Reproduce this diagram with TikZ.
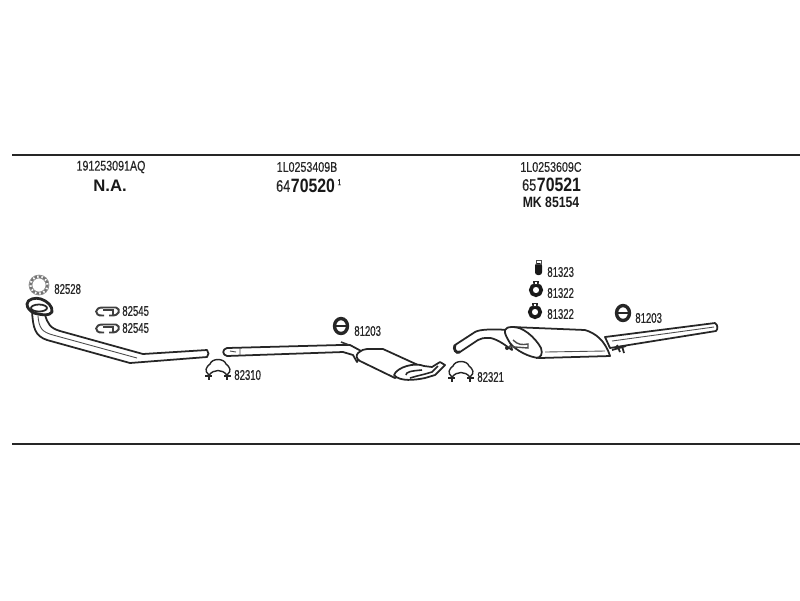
\documentclass[tikz,border=0pt]{standalone}
\usepackage{fontspec}
\setmainfont[FakeStretch=0.76,FakeBold=0.3]{Liberation Sans}
\newfontfamily\partfont[FakeStretch=0.68,FakeBold=0.6]{Liberation Sans}
\newfontfamily\boldnarrow[FakeStretch=0.82]{Liberation Sans Bold}
\newfontfamily\boldwide{Liberation Sans Bold}
\usetikzlibrary{calc}
\tikzset{
    rule/.style={line width=1.3pt, black!85},
    pipe/.style={draw=black!85, fill=white, line width=1pt, line join=round},
    thin pipe/.style={draw=black!70, line width=0.5pt},
    number/.style={inner sep=0pt, font=\fontsize{8}{8}\selectfont, black!85},
    partno/.style={inner sep=0pt, anchor=west, font=\fontsize{8}{8}\partfont, black!85},
    bigno/.style={inner sep=0pt, font=\fontsize{11}{11}\boldnarrow, black!90},
    clamp/.pic={
        \draw[pipe, line width=0.8pt] (-9,5) .. controls (-14,1) and (-12,-3) .. (-8,-6)
            .. controls (-6,-12) and (6,-12) .. (8,-6)
            .. controls (12,-3) and (14,1) .. (9,5)
            .. controls (4,-1) and (-4,-1) .. (-9,5) -- cycle;
        \draw[line width=1.6pt, black!85] (-13,6) -- (-6,6) (6,6) -- (13,6);
        \draw[line width=1.4pt, black!85] (-9,5) -- (-9,10) (9,5) -- (9,10);
    },
    springclip/.pic={
        \draw[line width=1.1pt, black!75] (-4,-3.5) -- (9,-3.5)
            (-4,-3.5) .. controls (-13,-4) and (-13,5) .. (-5,4.5) -- (-3,4.5)
            (9,-3.5) .. controls (14,-2) and (13,5) .. (4,4.5) -- (2,4.5)
            (-4,-1) -- (6,-1) -- (6,3);
    },
    mounting/.pic={
        \draw[black!85, line width=1.9pt] (0,0) ellipse (6.5 and 7.5);
        \fill[black!85] (-5,-1.2) rectangle (5,1.2);
        \fill[white] (-2.5,-4.5) rectangle (2.5,-1.6) (-2.5,1.6) rectangle (2.5,4.5);
    },
    hanger/.pic={
        \draw[black!90, line width=2.1pt] (0,0) circle (5.2);
        \fill[black!85] (-2.5,-5) -- (2.5,-5) -- (3,-9) -- (-3,-9) -- cycle;
        \fill[white] (-1.2,-8) rectangle (1.2,-6.5);
    },
}
\begin{document}
\begin{tikzpicture}[x=0.02cm, y=-0.02cm]
    \useasboundingbox (0,0) rectangle (800,600);

    % frame rules
    \coordinate (topl) at (12,155);
    \coordinate (topr) at (800,155);
    \coordinate (botl) at (12,444);
    \coordinate (botr) at (800,444);
    \draw[rule] (topl) -- (topr);
    \draw[rule] (botl) -- (botr);

    % headings
    \node[number] (codea) at (111,167) {191253091AQ};
    \node[inner sep=0pt, font=\fontsize{9.5}{9.5}\boldwide, black!90] (codena) at (110,186) {N.A.};
    \node[number] (codeb) at (307,167) {1L0253409B};
    \node[bigno] (refb) at (313,186) {70520};
    \node[inner sep=0pt, anchor=east, font=\fontsize{9.5}{9.5}\selectfont, black!85] (preb) at (refb.west) {64};
    \node[inner sep=0pt, anchor=north west, font=\fontsize{5}{5}\selectfont, black!85] (noteb) at ([xshift=1pt]refb.north east) {1};
    \node[number] (codec) at (551,167) {1L0253609C};
    \node[bigno] (refc) at (559,185) {70521};
    \node[inner sep=0pt, anchor=east, font=\fontsize{9.5}{9.5}\selectfont, black!85] (prec) at (refc.west) {65};
    \node[inner sep=0pt, font=\fontsize{8.5}{8.5}\boldnarrow, black!90] (mkc) at (551,202) {MK 85154};

    % front pipe
    \draw[black!55, line width=1.5pt, densely dotted] (39,285) circle (8.5);
    \draw[black!45, line width=0.4pt] (39,285) circle (10) (39,285) circle (7);
    \draw[pipe] (32,311) .. controls (33,328) and (35,336) .. (47,340)
        -- (130,363) -- (207,357)
        .. controls (209,355) and (209,352) .. (207,350)
        -- (143,354) -- (60,331) .. controls (50,328) and (48,324) .. (45,315) -- cycle;
    \draw[thin pipe] (38,316) .. controls (39,328) and (42,332) .. (53,335) -- (137,358);
    \draw[pipe, line width=1.6pt] (27,304) .. controls (27,299) and (36,297) .. (41,299)
        .. controls (47,301) and (53,306) .. (52,312) .. controls (50,316) and (41,315) .. (34,313)
        .. controls (30,311) and (27,308) .. (27,304) -- cycle;
    \draw[black!85, line width=1pt] (39,308) ellipse (8 and 3.5);
    \pic at (107,311) {springclip};
    \pic at (107,328) {springclip};
    \pic at (218,370) {clamp};

    % middle pipe and silencer
    \draw[pipe] (227,348) -- (340,345) -- (350,345) -- (363,352) -- (357,362) -- (353,355) -- (343,352) -- (227,356)
        .. controls (222,355) and (222,349) .. (227,348) -- cycle;
    \draw[thin pipe] (240,348) -- (240,355) (230,351) -- (236,352);
    \draw[black!80, line width=0.9pt] (341,342) -- (349,345);
    \draw[pipe] (358,353) .. controls (362,350) and (364,349) .. (367,349) -- (383,349)
        -- (418,365) -- (395,378) -- (360,361) .. controls (356,359) and (356,355) .. (358,353) -- cycle;
    \draw[pipe] (394,375) .. controls (397,367) and (415,362) .. (424,366)
        -- (432,367) -- (440,362) -- (445,365) -- (435,375) -- (425,378)
        .. controls (415,380) and (400,382) .. (394,375) -- cycle;
    \draw[black!85, line width=0.9pt] (406,375) .. controls (406,372) and (410,371) .. (422,370)
        (410,378) -- (417,376) -- (425,374) -- (432,372) -- (438,366);
    \pic at (341,326) {mounting};
    \pic at (461,372) {clamp};

    % rear silencer and tail pipe
    \draw[pipe] (605,337) -- (715,323) .. controls (718,325) and (718,329) .. (716,331) -- (610,348) -- cycle;
    \draw[thin pipe] (612,341) -- (714,327);
    \draw[black!85, line width=1pt] (617,345) -- (620,352) (622,346) -- (624,353) (612,350) -- (626,346);
    \draw[pipe] (455,345) -- (475,332) .. controls (480,329) and (495,329) .. (508,330)
        -- (512,350) -- (505,345) .. controls (498,340) and (490,337) .. (488,338)
        .. controls (484,338) and (481,338) .. (478,340) -- (460,352)
        .. controls (456,354) and (453,349) .. (455,345) -- cycle;
    \draw[black!85, line width=1.6pt] (455,345) .. controls (453,349) and (456,354) .. (460,352);
    \draw[pipe] (505,330) .. controls (506,328) and (508,327) .. (512,327)
        -- (585,330) .. controls (595,333) and (605,340) .. (610,356)
        -- (540,358) .. controls (530,358) and (515,350) .. (510,343) .. controls (507,338) and (504,333) .. (505,330) -- cycle;
    \draw[black!85, line width=1pt] (512,327) .. controls (522,326) and (535,337) .. (541,348) .. controls (543,354) and (541,358) .. (536,358);
    \draw[thin pipe, line width=0.8pt] (513,340) .. controls (518,345) and (522,345) .. (528,344) -- (528,348) -- (515,347) (509,346) -- (515,347);
    \fill[black!85] (507,348) circle (2);
    \draw[thin pipe] (545,352) -- (605,351);

    % small parts
    \pic at (623,313) {mounting};
    \pic at (536,290) {hanger};
    \pic at (535,312) {hanger};
    \fill[black!90, rounded corners=1.5pt] (535,263) rectangle (542,275);
    \draw[black!70, line width=0.5pt] (536,260) -- (536,264) -- (541,264) -- (541,260) -- cycle;

    % part numbers
    \node[partno] (lbla) at (54,289) {82528};
    \node[partno] (lblb) at (122,311) {82545};
    \node[partno] (lblc) at (122,328) {82545};
    \node[partno] (lbld) at (234,375) {82310};
    \node[partno] (lble) at (354,331) {81203};
    \node[partno] (lblf) at (477,377) {82321};
    \node[partno] (lblg) at (547,272) {81323};
    \node[partno] (lblh) at (547,293) {81322};
    \node[partno] (lbli) at (547,314) {81322};
    \node[partno] (lblj) at (635,318) {81203};
\end{tikzpicture}
\end{document}
